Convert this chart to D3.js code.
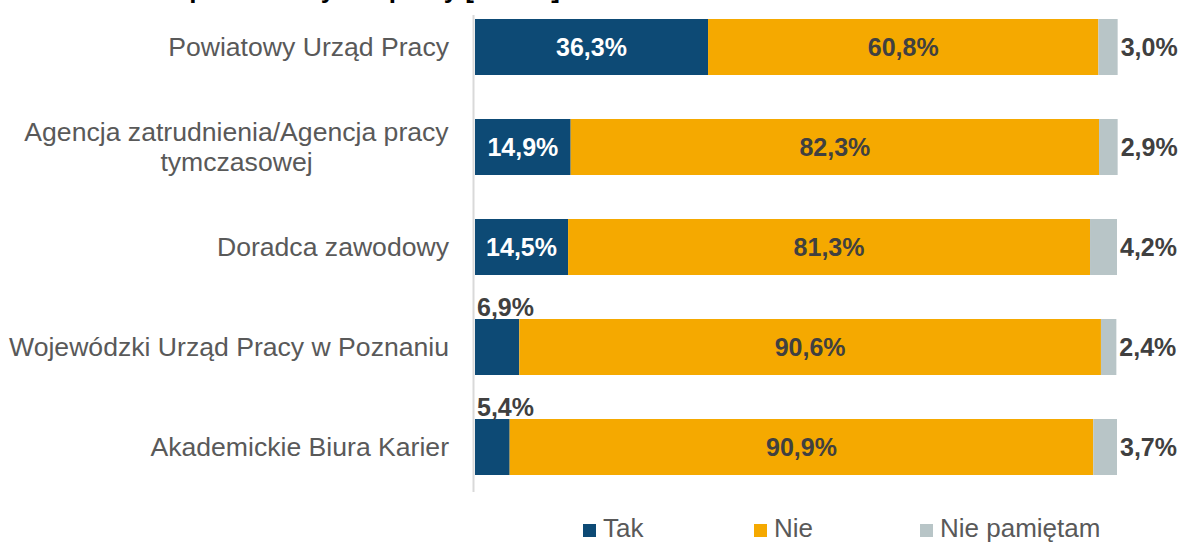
<!DOCTYPE html>
<html>
<head>
<meta charset="utf-8">
<script src="https://cdn.jsdelivr.net/npm/d3@7"></script>
<style>
  body { margin: 0; background: #fff; }
  svg { display: block; font-family: Arial, "Liberation Sans", sans-serif; }
</style>
</head>
<body>
<div id="chart"></div>
<script>
// data
var categories = [
  'Powiatowy Urząd Pracy',
  'Agencja zatrudnienia/Agencja pracy|tymczasowej',
  'Doradca zawodowy',
  'Wojewódzki Urząd Pracy w Poznaniu',
  'Akademickie Biura Karier'
];
var seriesNames = ['Tak', 'Nie', 'Nie pamiętam'];
var tak = [36.3, 14.9, 14.5, 6.9, 5.4];
var nie = [60.8, 82.3, 81.3, 90.6, 90.9];
var niePamietam = [3.0, 2.9, 4.2, 2.4, 3.7];
var colors = ['#0d4a75', '#f5a900', '#b8c5c7'];

var w = 1191, h = 542;
var svg = d3.select('#chart').append('svg').attr('width', w).attr('height', h);

// title, mostly cut off at the top edge
svg.append('text').attr('x', 560).attr('y', -2.5)
  .attr('text-anchor', 'end').attr('font-size', 26).attr('font-weight', 'bold')
  .attr('fill', '#000').text('Ocena wsparcia na rynku pracy [N=402]');

var y = d3.scaleBand().domain(categories).range([-3, 497])
  .paddingInner(0.44).paddingOuter(0.22);
var x = d3.scaleLinear().domain([0, 100]).range([475, 1117]);

var rows = categories.map(function(c, i){
  var vals = [tak[i], nie[i], niePamietam[i]];
  var acc = 0;
  return { cat: c, segs: vals.map(function(v, k){
    var s = { k: k, v: v, x0: acc, x1: acc + v };
    acc += v;
    return s;
  })};
});

// axis line
svg.append('line').attr('x1', 473.5).attr('x2', 473.5).attr('y1', 15).attr('y2', 492)
  .attr('stroke', '#d9d9d9').attr('stroke-width', 2);

var g = svg.selectAll('.row').data(rows).enter().append('g').attr('class', 'row')
  .attr('transform', function(d){ return 'translate(0,' + y(d.cat) + ')'; });

g.selectAll('rect').data(function(d){ return d.segs; }).enter().append('rect')
  .attr('x', function(d){ return x(d.x0); })
  .attr('width', function(d){ return x(d.x1) - x(d.x0); })
  .attr('y', 0).attr('height', y.bandwidth())
  .attr('fill', function(d){ return colors[d.k]; });

var fmt = function(v){ return v.toFixed(1).replace('.', ',') + '%'; };
var mid = y.bandwidth() / 2;

g.selectAll('.val').data(function(d){ return d.segs; }).enter().append('text')
  .attr('class', 'val')
  .attr('font-size', 25).attr('font-weight', 'bold')
  .attr('fill', function(d){ return (d.k === 0 && d.v > 10) ? '#fff' : '#404040'; })
  .attr('text-anchor', function(d){
    if (d.k === 1 || (d.k === 0 && d.v > 10)) return 'middle';
    return 'start';
  })
  .attr('x', function(d){
    if (d.k === 2) return x(d.x1) + 3;
    if (d.k === 0 && d.v <= 10) return x(0) + 2;
    return (x(d.x0) + x(d.x1)) / 2;
  })
  .attr('y', function(d){
    if (d.k === 0 && d.v <= 10) return -3;
    return mid + 9;
  })
  .text(function(d){ return fmt(d.v); });

// category labels
g.each(function(d){
  var lines = d.cat.split('|');
  var t = d3.select(this).append('text').attr('font-size', 26.6).attr('fill', '#595959');
  if (lines.length === 1) {
    t.attr('text-anchor', 'end').attr('x', 449).attr('y', mid + 9).text(lines[0]);
  } else {
    t.attr('text-anchor', 'middle');
    lines.forEach(function(l, i){
      t.append('tspan').attr('x', 0)
        .attr('y', mid + 9 + (i - (lines.length - 1) / 2) * 30).text(l);
    });
    var bw = t.node().getBBox().width;
    t.selectAll('tspan').attr('x', 449 - bw / 2);
  }
});

// legend
var legendX = [583, 754, 920];
var lg = svg.selectAll('.leg').data(seriesNames).enter().append('g').attr('class', 'leg')
  .attr('transform', function(d, i){ return 'translate(' + legendX[i] + ',0)'; });
lg.append('rect').attr('x', 0).attr('y', 524).attr('width', 13).attr('height', 13)
  .attr('fill', function(d, i){ return colors[i]; });
lg.append('text').attr('x', 20).attr('y', 537).attr('font-size', 26).attr('fill', '#595959')
  .text(function(d){ return d; });
</script>
</body>
</html>
